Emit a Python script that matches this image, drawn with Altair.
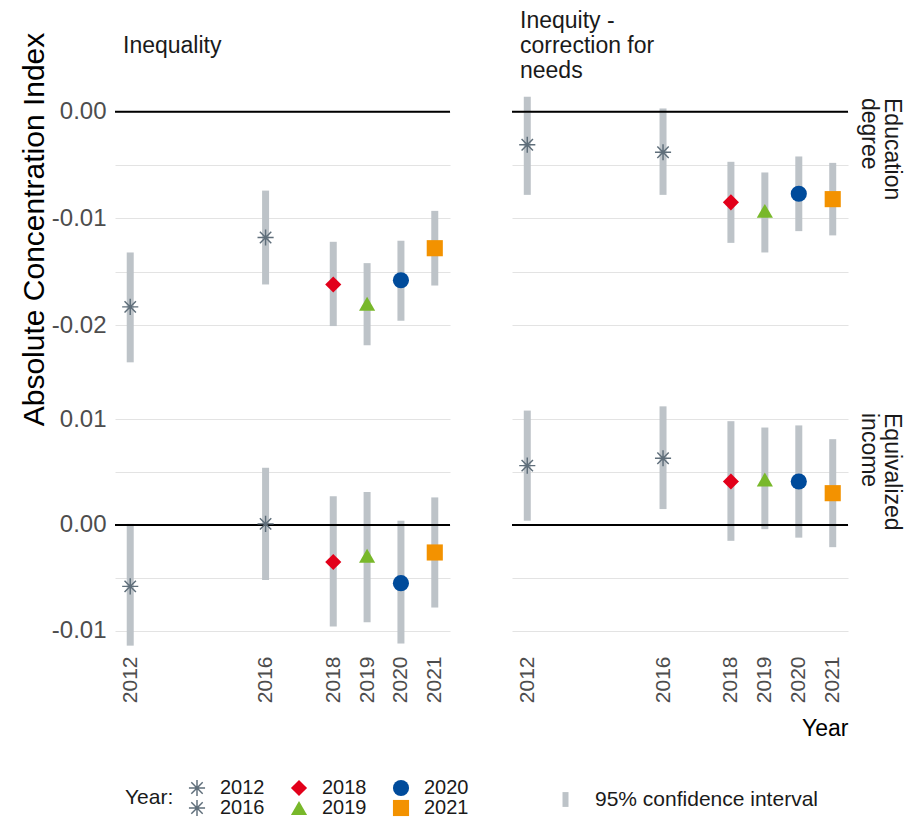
import altair as alt
import pandas as pd

# ---------------- data ----------------
years = [2012, 2016, 2018, 2019, 2020, 2021]
year_labels = ["2012", "2016", "2018", "2019", "2020", "2021"]

# Education degree - Inequality
edu_ineq_est = [-0.0183, -0.0118, -0.0162, -0.0180, -0.0158, -0.0128]
edu_ineq_lo = [-0.0235, -0.0162, -0.0201, -0.0219, -0.0196, -0.0163]
edu_ineq_hi = [-0.0132, -0.0074, -0.0122, -0.0142, -0.0121, -0.0093]

# Education degree - Inequity (need-corrected)
edu_iniq_est = [-0.0031, -0.0038, -0.0085, -0.0093, -0.0077, -0.0082]
edu_iniq_lo = [-0.0078, -0.0078, -0.0123, -0.0132, -0.0112, -0.0116]
edu_iniq_hi = [0.0014, 0.0003, -0.0047, -0.0057, -0.0042, -0.0048]

# Equivalized income - Inequality
inc_ineq_est = [-0.0058, 0.0001, -0.0035, -0.0029, -0.0055, -0.0026]
inc_ineq_lo = [-0.0114, -0.0052, -0.0096, -0.0092, -0.0112, -0.0078]
inc_ineq_hi = [0.0001, 0.0054, 0.0027, 0.0031, 0.0004, 0.0026]

# Equivalized income - Inequity (need-corrected)
inc_iniq_est = [0.0056, 0.0063, 0.0041, 0.0043, 0.0041, 0.0030]
inc_iniq_lo = [0.0004, 0.0015, -0.0015, -0.0004, -0.0012, -0.0021]
inc_iniq_hi = [0.0108, 0.0112, 0.0098, 0.0092, 0.0094, 0.0081]

zero_line = [0.0]
ci_label = ["95% confidence interval"]

col_titles = [["Inequality"], ["Inequity -", "correction for", "needs"]]
row_titles = [["Education", "degree"], ["Equivalized", "income"]]

top_grid = [-0.02, -0.015, -0.01, -0.005, 0.0]
bottom_grid = [-0.01, -0.005, 0.0, 0.005, 0.01]

ASTERISK = ("M-0.09,-1H0.09V1H-0.09Z M-1,-0.09H1V0.09H-1Z "
            "M-0.643,-0.771L0.771,0.643L0.643,0.771L-0.771,-0.643Z "
            "M-0.643,0.771L-0.771,0.643L0.643,-0.771L0.771,-0.643Z")
year_colors = ["#5f6e7a", "#5f6e7a", "#e2001a", "#78b82a", "#004b9b", "#f39200"]
year_shapes = [ASTERISK, ASTERISK, "diamond", "triangle-up", "circle", "square"]
year_sizes = [260, 260, 130, 330, 150, 135]

FONT = "Liberation Sans"
CI_COLOR = "#bdc3c8"
TXT = "#1a1a1a"


def frame(est, lo, hi):
    return pd.DataFrame({
        "Year": years, "YearLabel": year_labels,
        "est": est, "lo": lo, "hi": hi,
        "ci": ci_label * len(years),
    })


year_legend = alt.Legend(
    title="Year:", orient="none", legendX=10, legendY=693,
    columns=3, titleOrient="left", titleFontSize=21, titleFontWeight="normal",
    titleColor=TXT, titleFont=FONT, labelFont=FONT,
    labelFontSize=20, labelColor=TXT, symbolSize=75,
    rowPadding=0, columnPadding=24, labelOffset=13, titlePadding=13,
    symbolStrokeWidth=0, labelLimit=0,
)

ci_legend = alt.Legend(
    title=None, orient="none", legendX=440, legendY=704,
    labelFontSize=21, labelColor=TXT, labelFont=FONT, labelLimit=0,
    symbolType="M0,-1L0,1", symbolStrokeWidth=6, symbolSize=220,
    symbolStrokeColor=CI_COLOR, labelOffset=19,
)


def panel(df, ydom, ygrid, width, height, left, top, title=None, rowlabel=None, xtitle=None):
    x_scale = alt.Scale(domain=[2011.55, 2021.45], nice=False, zero=False)
    y_scale = alt.Scale(domain=ydom, nice=False, zero=False)

    if top:
        x_axis = None
    else:
        xa = dict(values=years, format="d", labelAngle=-90, grid=False, ticks=False,
                  domain=False, labelFontSize=21, labelColor="#4d4d4d", labelPadding=4,
                  labelFont=FONT)
        if xtitle:
            xa.update(title=xtitle, titleAnchor="end", titleFontSize=23,
                      titleFontWeight="normal", titleColor="#000000", titleFont=FONT,
                      titlePadding=15)
        else:
            xa.update(title=None)
        x_axis = alt.Axis(**xa)

    ya = dict(values=ygrid, grid=True, gridColor="#e3e3e3", gridWidth=1, ticks=False,
              domain=False)
    if left:
        ya.update(
            labelExpr="abs(datum.value*100 - round(datum.value*100)) < 0.001 ? "
                      "(datum.value < -0.000001 ? '-' : '') + format(abs(datum.value), '.2f') : ''",
            labelFontSize=24, labelColor="#4d4d4d", labelPadding=9, labelFont=FONT,
        )
        if top:
            ya.update(title="Absolute Concentration Index", titleFontSize=30,
                      titleFontWeight="normal", titleColor="#000000", titleFont=FONT,
                      titlePadding=2)
        else:
            ya.update(title=None)
    else:
        ya.update(labels=False, title=None)
    y_axis = alt.Axis(**ya)

    base = alt.Chart(df)
    ci = base.mark_rule(strokeWidth=7, color=CI_COLOR).encode(
        x=alt.X("Year:Q", scale=x_scale, axis=x_axis),
        y=alt.Y("lo:Q", scale=y_scale, axis=y_axis),
        y2="hi:Q",
        opacity=alt.Opacity("ci:N", scale=alt.Scale(range=[1.0]), legend=ci_legend),
    )
    zero = alt.Chart(pd.DataFrame({"z": zero_line})).mark_rule(
        color="#000000", strokeWidth=2
    ).encode(y=alt.Y("z:Q", scale=y_scale, axis=y_axis))
    pts = base.mark_point(filled=True, opacity=1, strokeWidth=0).encode(
        x=alt.X("Year:Q", scale=x_scale, axis=x_axis),
        y=alt.Y("est:Q", scale=y_scale, axis=y_axis),
        color=alt.Color("YearLabel:N", scale=alt.Scale(domain=year_labels, range=year_colors),
                        legend=year_legend),
        shape=alt.Shape("YearLabel:N", scale=alt.Scale(domain=year_labels, range=year_shapes),
                        legend=year_legend),
        size=alt.Size("YearLabel:N", scale=alt.Scale(domain=year_labels, range=year_sizes),
                      legend=None),
    )
    layers = [ci, zero, pts]
    one = pd.DataFrame({"t": [0]})
    if title:
        ttl = alt.Chart(one).mark_text(
            text=title, align="left", baseline="middle", fontSize=23, lineHeight=25,
            color=TXT, font=FONT,
        ).encode(x=alt.value(8), y=alt.value(-39 - 25 * (len(title) - 1) / 2))
        layers.append(ttl)
    if rowlabel:
        txt = alt.Chart(one).mark_text(
            text=rowlabel, angle=90, align="left", baseline="top", fontSize=23,
            lineHeight=23, color=TXT, font=FONT,
        ).encode(x=alt.value(width + 55), y=alt.value(13))
        layers.append(txt)

    return alt.layer(*layers).properties(width=width, height=height)


TOP_DOM = [-0.0245, 0.0025]
BOT_DOM = [-0.012, 0.0118]

tl = panel(frame(edu_ineq_est, edu_ineq_lo, edu_ineq_hi), TOP_DOM, top_grid, 335, 288,
           left=True, top=True, title=col_titles[0])
tr = panel(frame(edu_iniq_est, edu_iniq_lo, edu_iniq_hi), TOP_DOM, top_grid, 336, 288,
           left=False, top=True, title=col_titles[1], rowlabel=row_titles[0])
bl = panel(frame(inc_ineq_est, inc_ineq_lo, inc_ineq_hi), BOT_DOM, bottom_grid, 335, 252,
           left=True, top=False)
br = panel(frame(inc_iniq_est, inc_iniq_lo, inc_iniq_hi), BOT_DOM, bottom_grid, 336, 252,
           left=False, top=False, rowlabel=row_titles[1], xtitle="Year")

chart = alt.concat(
    tl, tr, bl, br, columns=2, spacing={"row": 27, "column": 62}, bounds="flush"
).resolve_scale(
    x="independent", y="independent"
).properties(
    padding={"left": 11, "top": 2, "right": 10, "bottom": 0}
).configure(
    font=FONT
).configure_view(
    stroke=None
)

chart.save("out.html", embed_options={"renderer": "svg", "actions": False})
